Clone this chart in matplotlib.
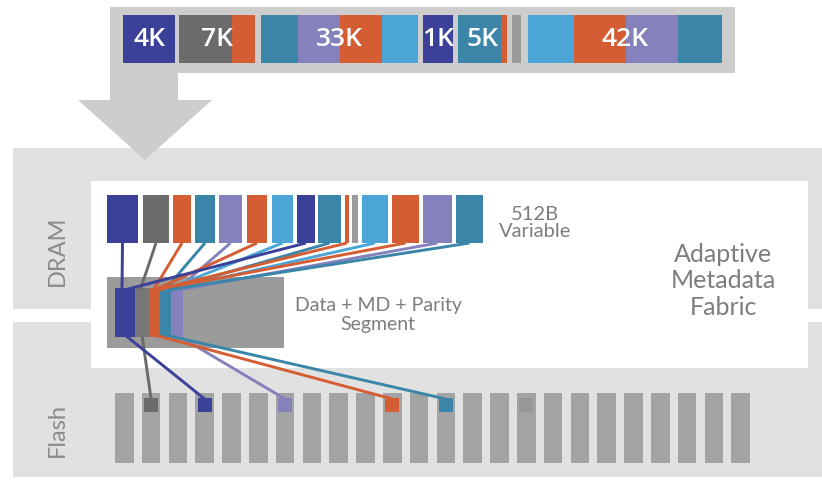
import matplotlib
matplotlib.use("Agg")
import matplotlib.pyplot as plt
from matplotlib.patches import Rectangle, Polygon

# ---- palette ----
N = "#3b4198"   # navy
DG = "#6b6b6b"  # dark gray
O = "#d45d33"   # orange
T = "#3a85a8"   # teal
L = "#8581bd"   # lavender
LB = "#4ba5d7"  # light blue
G = "#9a9a9a"   # light gray block

# ---- data: incoming writes (top bar) ----
top_labels = ["4K", "7K", "33K", "1K", "5K", "", "42K"]
top_starts = [123, 179, 261, 423, 458, 512, 528]
top_widths = [[52], [53, 23], [37, 42, 42, 36], [30], [43, 6], [9], [46, 52, 52, 44]]
top_colors = [[N], [DG, O], [T, L, O, LB], [N], [T, O], [G], [LB, O, L, T]]

# ---- data: 512B variable blocks in DRAM ----
blk_x0 = [107, 143, 173, 195, 219, 247, 272, 297, 318, 345, 352, 362, 392, 423, 456]
blk_x1 = [138, 169, 191, 215, 242, 267, 293, 315, 341, 349, 358, 388, 419, 452, 483]
blk_col = [N, DG, O, T, L, O, LB, N, T, O, G, LB, O, L, T]

# ---- data: segment strips ----
seg_x0 = [115, 135, 149, 160, 171]
seg_x1 = [135, 149, 160, 171, 183]
seg_col = [N, "#777777", O, T, L]
seg_target = {N: 0, DG: 1, O: 2, T: 3, LB: 3, L: 4}

# ---- data: flash columns ----
n_flash = 24
flash_marks = [1, 3, 6, 10, 12, 15]
flash_mark_col = [DG, N, L, O, T, "#979797"]
flash_mark_src = [1, 0, 4, 2, 3, None]

fig = plt.figure(figsize=(8.22, 4.87), dpi=100)
ax = fig.add_axes([0, 0, 1, 1])
ax.set_xlim(0, 822)
ax.set_ylim(487, 0)
ax.axis("off")

def rect(x0, y0, x1, y1, c, z=1):
    ax.add_patch(Rectangle((x0, y0), x1 - x0, y1 - y0, facecolor=c,
                           edgecolor="none", zorder=z))

# layer backgrounds
rect(13, 148, 822, 309, "#e1e1e1", 1)
rect(13, 322, 822, 477, "#e1e1e1", 1)
rect(91, 181, 808, 368, "white", 2)

# top bar & arrow
ARC = "#cdcdcd"
rect(110, 7, 735, 73, ARC, 3)
rect(110, 72, 178, 101, ARC, 3)
ax.add_patch(Polygon([(78, 100), (212, 100), (145, 160)], closed=True,
                     facecolor=ARC, edgecolor="none", zorder=3))

for lab, x0, ws, cs in zip(top_labels, top_starts, top_widths, top_colors):
    x = x0
    for w, c in zip(ws, cs):
        rect(x, 15, x + w, 63, c, 4)
        x += w
    if lab:
        ax.text((x0 + x) / 2, 40, lab, ha="center", va="center", color="white",
                fontsize=19, fontweight="semibold", family="Open Sans", zorder=5)

# labels
TXT = "#7d7d7d"
FF = ["Lato", "Open Sans"]
ax.text(57, 251, "DRAM", rotation=90, ha="center", va="center", color="#8a8a8a",
        fontsize=17, family=FF, zorder=5)
ax.text(57, 430, "Flash", rotation=90, ha="center", va="center", color="#8a8a8a",
        fontsize=17, family=FF, zorder=5)
ax.text(535, 223, "512B\nVariable", ha="center", va="center", color=TXT,
        fontsize=14.5, family=FF, linespacing=1.05, zorder=5)
ax.text(378, 315, "Data + MD + Parity\nSegment", ha="center", va="center",
        color=TXT, fontsize=14, family=FF, linespacing=1.15, zorder=5)
ax.text(723, 281, "Adaptive\nMetadata\nFabric", ha="center", va="center",
        color=TXT, fontsize=18, family=FF, linespacing=1.2, zorder=5)

# 512B blocks
for x0, x1, c in zip(blk_x0, blk_x1, blk_col):
    rect(x0, 195, x1, 243, c, 4)

# segment
rect(107, 277, 284, 348, "#9b9b9b", 4)
for x0, x1, c in zip(seg_x0, seg_x1, seg_col):
    rect(x0, 288, x1, 337, c, 6)

# lines from blocks to segment strips
for i, (x0, x1, c) in enumerate(zip(blk_x0, blk_x1, blk_col)):
    if c not in seg_target:
        continue
    k = seg_target[c]
    tx = seg_x0[k] + 0.35 * (seg_x1[k] - seg_x0[k]) + i * 0.3
    ax.plot([(x0 + x1) / 2, tx], [243, 290], color=c, lw=2.1,
            solid_capstyle="butt", zorder=6.5)

# flash columns
pitch, bw = 26.8, 18.6
for i in range(n_flash):
    x0 = 115 + i * pitch
    rect(x0, 393, x0 + bw, 463, "#a3a3a3", 3)
for idx, c, src in zip(flash_marks, flash_mark_col, flash_mark_src):
    cx = 115 + idx * pitch + bw / 2
    rect(cx - 7, 398, cx + 7, 412, c, 7)
    if src is not None:
        sx = (seg_x0[src] + seg_x1[src]) / 2
        ax.plot([sx, cx], [335, 399], color=c, lw=2.1,
                solid_capstyle="butt", zorder=6.5)

fig.savefig("out.png", dpi=100)
